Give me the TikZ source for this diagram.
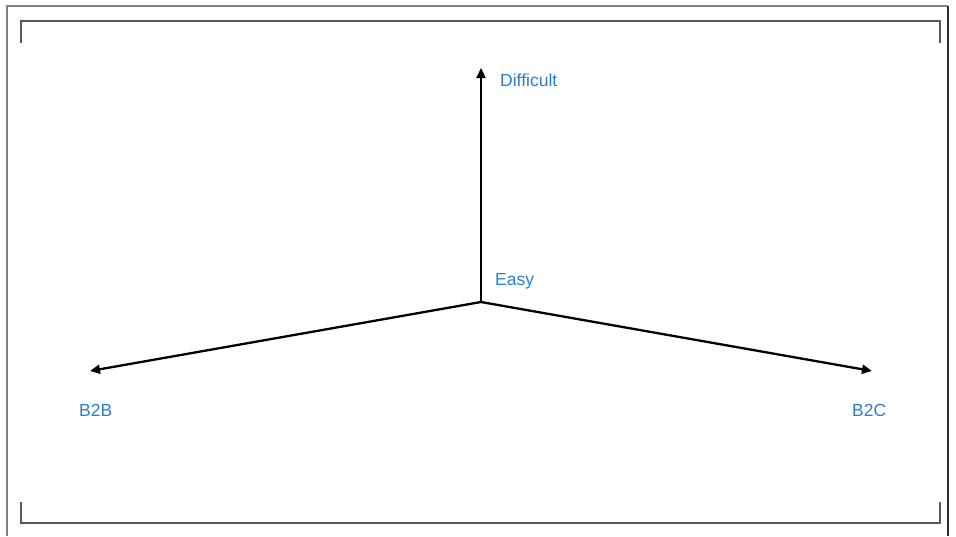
\documentclass[tikz,border=0pt]{standalone}
\usepackage{fontspec}
\setmainfont{Liberation Sans}
\usetikzlibrary{arrows.meta}
\definecolor{labelblue}{HTML}{2A7DCB}
\definecolor{framegray}{HTML}{808080}
\definecolor{framedark}{HTML}{303030}
\tikzset{
  axis/.style={line width=2.3pt, -{Triangle[length=10pt,width=9pt]}},
  axlabel/.style={text=labelblue, font=\fontsize{17.5}{20}\selectfont, inner sep=0pt},
  bracket/.style={draw=framedark!80!white, line width=1.4pt},
}
\begin{document}
\begin{tikzpicture}[x=1pt,y=-1pt]
\useasboundingbox (0,0) rectangle (956,536);
% outer frame
\draw[framegray, line width=1.5pt] (7,536) -- (7,6) -- (948,6);
\draw[framedark, line width=1.5pt] (948,6) -- (948,536);
% corner brackets
\draw[bracket] (21,43) -- (21,21) -- (940,21) -- (940,43);
\draw[bracket] (21,502) -- (21,523) -- (940,523) -- (940,502);
% axes
\coordinate (o) at (481,302);
\coordinate (up) at (481,68);
\coordinate (lft) at (90,371);
\coordinate (rgt) at (872,371);
\draw[axis] (o) -- (up);
\draw[axis] (o) -- (lft);
\draw[axis] (o) -- (rgt);
% labels
\node[axlabel, anchor=west] (difficult) at (500,80) {Difficult};
\node[axlabel, anchor=west] (easy) at (495,281) {Easy};
\node[axlabel, anchor=west] (b2b) at (79,410) {B2B};
\node[axlabel, anchor=west] (b2c) at (852,410) {B2C};
\end{tikzpicture}
\end{document}
